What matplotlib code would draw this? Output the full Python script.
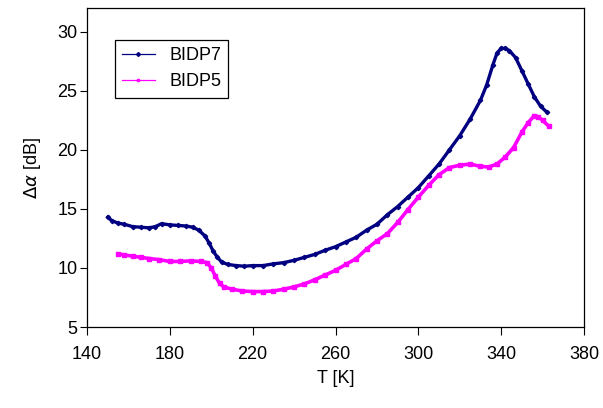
import matplotlib
matplotlib.use("Agg")
from matplotlib import pyplot as plt

plt.rcParams['font.family'] = ['Liberation Sans', 'DejaVu Sans']
plt.rcParams['mathtext.fontset'] = 'dejavusans'

# BIDP7 (navy)
t7 = [150, 152, 155, 158, 162, 166, 170, 173, 176, 180, 184, 188, 191, 194,
      197, 199, 201, 203, 205, 208, 212, 216, 220, 225, 230, 235, 240, 245,
      250, 255, 260, 265, 270, 275, 280, 285, 290, 295, 300, 305, 310, 315,
      320, 325, 330, 333, 336, 338, 340, 342, 344, 347, 350, 353, 356, 359, 362]
a7 = [14.3, 14.0, 13.8, 13.7, 13.5, 13.45, 13.4, 13.5, 13.75, 13.65, 13.6,
      13.55, 13.45, 13.2, 12.7, 12.1, 11.4, 10.9, 10.5, 10.3, 10.2, 10.15,
      10.2, 10.2, 10.35, 10.45, 10.65, 10.9, 11.15, 11.5, 11.8, 12.2, 12.6,
      13.2, 13.7, 14.5, 15.2, 16.0, 16.8, 17.8, 18.8, 20.0, 21.2, 22.6, 24.2,
      25.5, 27.2, 28.2, 28.6, 28.6, 28.4, 27.8, 26.7, 25.6, 24.5, 23.7, 23.2]

# BIDP5 (magenta)
t5 = [155, 158, 162, 166, 170, 175, 180, 185, 190, 195, 198, 200, 202, 204,
      206, 210, 215, 220, 225, 230, 235, 240, 245, 250, 255, 260, 265, 270,
      275, 280, 285, 290, 295, 300, 305, 310, 315, 320, 325, 330, 334, 338,
      342, 346, 350, 353, 356, 358, 360, 363]
a5 = [11.2, 11.1, 11.0, 10.9, 10.8, 10.7, 10.55, 10.55, 10.6, 10.55, 10.45,
      10.0, 9.3, 8.7, 8.4, 8.2, 8.05, 8.0, 8.0, 8.05, 8.2, 8.4, 8.65, 9.0,
      9.4, 9.8, 10.3, 10.8, 11.6, 12.3, 12.9, 13.85, 14.95, 16.0, 17.0, 17.9,
      18.5, 18.7, 18.8, 18.6, 18.55, 18.8, 19.4, 20.2, 21.5, 22.3, 22.9, 22.8,
      22.5, 22.0]

xticks = [140, 180, 220, 260, 300, 340, 380]
yticks = [5, 10, 15, 20, 25, 30]

fig = plt.figure(figsize=(6.03, 4.08), dpi=100)
ax = fig.add_axes([0.1443, 0.1985, 0.8242, 0.7815])

ax.plot(t7, a7, color='#000080', lw=2.4, marker='D', ms=2.2, label='BIDP7')
ax.plot(t5, a5, color='#FF00FF', lw=2.6, marker='s', ms=2.2, label='BIDP5')

ax.set_xlim(140, 380)
ax.set_ylim(5, 32)
ax.set_xticks(xticks)
ax.set_yticks(yticks)
ax.tick_params(direction='out', width=0.8, labelsize=13)
ax.tick_params(axis='y', length=5, pad=2)
ax.tick_params(axis='x', length=6, pad=8)
for s in ax.spines.values():
    s.set_linewidth(0.9)

ax.set_xlabel('T [K]', fontsize=13, labelpad=5)
ax.set_ylabel(r'$\Delta\alpha$ [dB]', fontsize=13, labelpad=10)

leg = ax.legend(loc='upper left', bbox_to_anchor=(0.056, 0.9), borderaxespad=0,
                fancybox=False, edgecolor='black', framealpha=1, fontsize=13,
                handlelength=1.8, markerscale=0.9)
leg.get_frame().set_linewidth(0.9)
for h in leg.get_lines():
    h.set_linewidth(0.9)

fig.savefig('out.png', dpi=100)
